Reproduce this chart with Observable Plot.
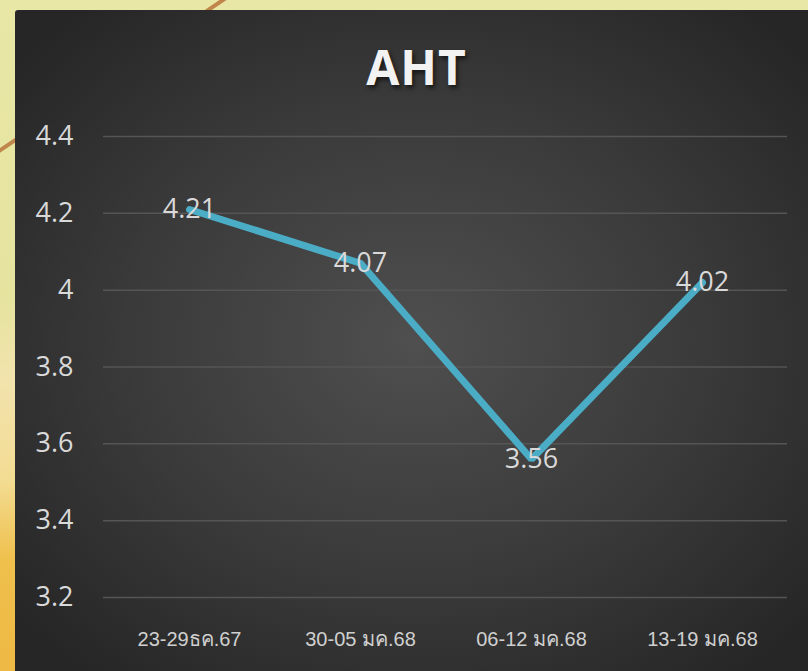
<!DOCTYPE html>
<html>
<head>
<meta charset="utf-8">
<script src="https://cdn.jsdelivr.net/npm/d3@7"></script>
<script src="https://cdn.jsdelivr.net/npm/@observablehq/plot@0.6"></script>
<style>
  html, body { margin: 0; padding: 0; }
  body {
    width: 808px; height: 671px; overflow: hidden; position: relative;
    background: linear-gradient(180deg, #e9e7a6 0px, #e6e39f 300px, #f2e3ad 380px, #f3dc93 480px, #efc04c 560px, #eeb944 671px);
  }
  #stripe {
    position: absolute; left: -40px; top: 175px; width: 330px; height: 4px;
    background: #c0854a; transform-origin: 0 0; transform: rotate(-34deg);
  }
  #panel {
    position: absolute; left: 15px; top: 10px; width: 793px; height: 661px;
    border-top-left-radius: 3px;
    background: radial-gradient(ellipse 520px 430px at 400px 330px, #4f4f4f 0%, #3a3a3a 55%, #262626 100%);
    overflow: hidden;
  }
  #title {
    position: absolute; left: 0; top: 24px; width: 803px; text-align: center;
    font-family: "Open Sans", "DejaVu Sans", sans-serif; font-weight: 700; font-size: 48px;
    color: #f2f2f2; text-shadow: 2px 3px 4px rgba(0,0,0,0.6); letter-spacing: 1px;
  }
  #chart { position: absolute; left: 0; top: 90px; }
</style>
</head>
<body>
<div id="stripe"></div>
<div id="panel">
  <div id="title">AHT</div>
  <div id="chart"></div>
</div>
<script>
const categories = ["23-29ธค.67", "30-05 มค.68", "06-12 มค.68", "13-19 มค.68"];
const values = [4.21, 4.07, 3.56, 4.02];
const yTicks = [3.2, 3.4, 3.6, 3.8, 4, 4.2, 4.4];

const data = categories.map((c, i) => ({week: c, value: values[i]}));

const chart = Plot.plot({
  width: 793,
  height: 571,
  marginLeft: 88,
  marginRight: 21,
  marginTop: 36,
  marginBottom: 74,
  style: {background: "transparent", overflow: "visible"},
  x: {type: "point", domain: categories, padding: 0.5},
  y: {domain: [3.2, 4.4]},
  marks: [
    Plot.ruleY(yTicks, {stroke: "#555555", strokeWidth: 1.5}),
    Plot.axisY({
      ticks: yTicks, tickSize: 0, tickPadding: 30,
      tickFormat: d => String(d),
      fontSize: 27, fill: "#d9d9d9", label: null,
      fontFamily: "Open Sans, DejaVu Sans, sans-serif"
    }),
    Plot.axisX({
      tickSize: 0, tickPadding: 34, fontSize: 20, fill: "#d0d0d0",
      fontFamily: "Liberation Sans Narrow, Arial Narrow, sans-serif",
      label: null
    }),
    Plot.line(data, {
      x: "week", y: "value", stroke: "#4bacc6", strokeWidth: 7,
      strokeLinecap: "round", strokeLinejoin: "miter",
      style: "filter: drop-shadow(2px 3px 2px rgba(0,0,0,0.45))"
    }),
    Plot.text(data, {
      x: "week", y: "value", text: d => String(d.value),
      fill: "#d9d9d9", fontSize: 27, lineAnchor: "middle",
      fontFamily: "Open Sans, DejaVu Sans, sans-serif"
    })
  ]
});
document.getElementById("chart").appendChild(chart);
</script>
</body>
</html>
